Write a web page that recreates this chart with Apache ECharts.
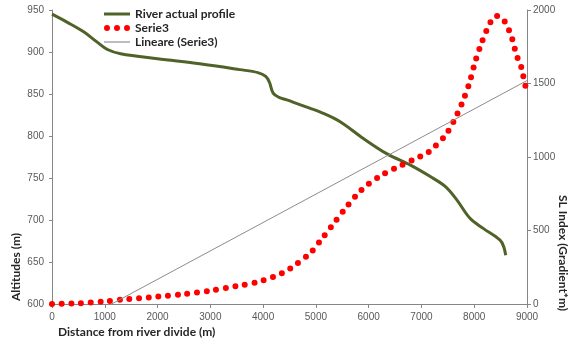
<!DOCTYPE html>
<html>
<head>
<meta charset="utf-8">
<script src="https://cdn.jsdelivr.net/npm/echarts@6/dist/echarts.min.js"></script>
<style>
  html, body { margin: 0; padding: 0; background: #fff; }
  #chart { width: 577px; height: 340px; }
</style>
</head>
<body>
<div id="chart"></div>
<script>
// Longitudinal river profile: distance (m) vs altitude (m)
const profileDistance = [0, 300, 600, 850, 1050, 1300, 2000, 2800, 3560, 3900, 4050, 4120, 4190, 4300, 4450, 4800, 5140, 5460, 5900, 6340, 6800, 7160, 7450, 7670, 7920, 8170, 8490, 8560, 8596];
const profileAltitude = [945, 935, 924, 912, 903, 898, 892, 886, 879, 875.5, 871, 864, 851, 846, 843, 835, 827, 817, 797, 779, 765, 752, 740, 724, 702, 690, 676, 668, 658];

// SL index (gradient * m) along the same distance axis
const slDistance = [0, 500, 1000, 1400, 2000, 2500, 3000, 3500, 3900, 4200, 4450, 4600, 4900, 5120, 5340, 5570, 5800, 5950, 6270, 6600, 6900, 7100, 7230, 7460, 7640, 7780, 7910, 8010, 8120, 8250, 8350, 8430, 8560, 8710, 8800, 8880, 8920, 8960, 9000];
const slIndex = [0, 5, 18, 32, 50, 68, 90, 122, 150, 185, 227, 263, 349, 447, 549, 655, 753, 803, 882, 941, 991, 1025, 1063, 1150, 1263, 1376, 1505, 1637, 1757, 1875, 1940, 1960, 1932, 1814, 1694, 1626, 1565, 1497, 1450];

// Linear trend of the SL index (visible segment endpoints)
const trendDistance = [1130, 9000];
const trendIndex = [0, 1520];

const seriesNames = ['River actual profile', 'Serie3', 'Lineare (Serie3)'];

const zip = (xs, ys) => xs.map((x, i) => [x, ys[i]]);

const axisGray = '#868686';
const labelGray = '#595959';
const titleFont = 'Lato, Liberation Sans, sans-serif';
const tickFont = 'Liberation Sans, sans-serif';

// legend glyphs: solid bar, three dots, thin bar
const iconLine = 'path://M0,0h26v3h-26z';
const iconDots = 'path://M0,3a3,3 0 1,0 6,0a3,3 0 1,0 -6,0zM10,3a3,3 0 1,0 6,0a3,3 0 1,0 -6,0zM20,3a3,3 0 1,0 6,0a3,3 0 1,0 -6,0z';
const iconThin = 'path://M0,0h26v2h-26z';

const chart = echarts.init(document.getElementById('chart'), null, { renderer: 'canvas' });

chart.setOption({
  animation: false,
  backgroundColor: '#fff',
  grid: { left: 52, right: 50, top: 10, bottom: 36, containLabel: false },
  legend: {
    orient: 'vertical',
    left: 99,
    top: 3,
    itemWidth: 26,
    itemHeight: 12,
    itemGap: 2,
    data: [
      { name: seriesNames[0], icon: iconLine, itemStyle: { color: '#4f6228', borderWidth: 0 } },
      { name: seriesNames[1], icon: iconDots, itemStyle: { color: '#ff0000', borderWidth: 0 } },
      { name: seriesNames[2], icon: iconThin, itemStyle: { color: '#bdbdbd', borderWidth: 0 } }
    ],
    textStyle: { fontFamily: titleFont, fontWeight: 'bold', fontSize: 12, color: '#262626' }
  },
  xAxis: {
    type: 'value',
    min: 0, max: 9000, interval: 1000,
    splitLine: { show: false },
    axisLine: { lineStyle: { color: axisGray } },
    axisTick: { show: true, length: 4, lineStyle: { color: axisGray } },
    axisLabel: { color: labelGray, fontSize: 10, fontFamily: tickFont, margin: 8, formatter: v => String(v) }
  },
  yAxis: [
    {
      type: 'value',
      min: 600, max: 950, interval: 50,
      splitLine: { show: false },
      axisLine: { show: true, lineStyle: { color: axisGray } },
      axisTick: { show: true, length: 3, lineStyle: { color: axisGray } },
      axisLabel: { color: labelGray, fontSize: 10, fontFamily: tickFont, margin: 8, formatter: v => String(v) }
    },
    {
      type: 'value',
      position: 'right',
      min: 0, max: 2000, interval: 500,
      splitLine: { show: false },
      axisLine: { show: true, lineStyle: { color: axisGray } },
      axisTick: { show: true, length: 4, lineStyle: { color: axisGray } },
      axisLabel: { color: labelGray, fontSize: 10, fontFamily: tickFont, margin: 6, formatter: v => String(v) }
    }
  ],
  series: [
    {
      name: seriesNames[0],
      type: 'line',
      yAxisIndex: 0,
      data: zip(profileDistance, profileAltitude),
      smooth: 0.35,
      symbol: 'none',
      lineStyle: { color: '#4f6228', width: 3 },
      itemStyle: { color: '#4f6228' },
      z: 2
    },
    {
      name: seriesNames[1],
      type: 'line',
      yAxisIndex: 1,
      data: zip(slDistance, slIndex),
      smooth: 0.3,
      symbol: 'none',
      lineStyle: { color: '#ff0000', width: 6, type: [0, 9.7], cap: 'round' },
      itemStyle: { color: '#ff0000' },
      z: 3
    },
    {
      name: seriesNames[2],
      type: 'line',
      yAxisIndex: 1,
      data: zip(trendDistance, trendIndex),
      symbol: 'none',
      lineStyle: { color: '#8c8c8c', width: 1 },
      itemStyle: { color: '#8c8c8c' },
      z: 4
    }
  ],
  graphic: [
    {
      type: 'text', left: 58, top: 326,
      style: { text: 'Distance from river divide (m)', font: 'bold 12px ' + titleFont, fill: '#262626' }
    },
    {
      type: 'text', x: 16, y: 301, rotation: Math.PI / 2,
      style: { text: 'Altitudes (m)', font: 'bold 12px ' + titleFont, fill: '#262626', textAlign: 'left', textVerticalAlign: 'middle' }
    },
    {
      type: 'text', x: 563, y: 195, rotation: -Math.PI / 2,
      style: { text: 'SL Index (Gradient*m)', font: 'bold 12px ' + titleFont, fill: '#262626', textAlign: 'left', textVerticalAlign: 'middle' }
    }
  ]
});
</script>
</body>
</html>
